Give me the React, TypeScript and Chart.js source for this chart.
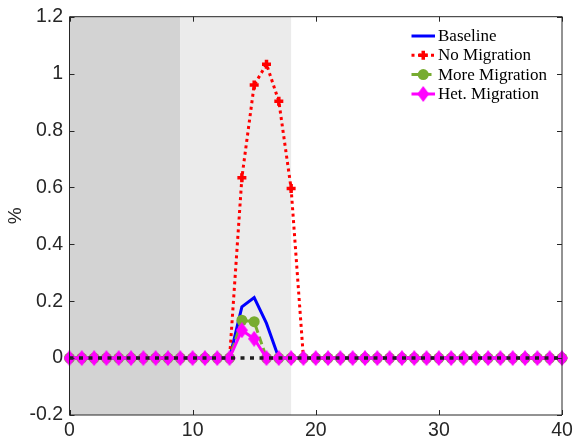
import React, { useEffect, useRef } from "react";
import { Chart, registerables } from "chart.js";

Chart.register(...registerables);

// ---- data ----
const periods = [0,1,2,3,4,5,6,7,8,9,10,11,12,13,14,15,16,17,18,19,20,21,22,23,24,25,26,27,28,29,30,31,32,33,34,35,36,37,38,39,40];
const baseline =     [0,0,0,0,0,0,0,0,0,0,0,0,0,0,0.18,0.213,0.122,0,0,0,0,0,0,0,0,0,0,0,0,0,0,0,0,0,0,0,0,0,0,0,0];
const noMigration =  [0,0,0,0,0,0,0,0,0,0,0,0,0,0,0.634,0.96,1.033,0.903,0.596,0,0,0,0,0,0,0,0,0,0,0,0,0,0,0,0,0,0,0,0,0,0];
const moreMigration = [0,0,0,0,0,0,0,0,0,0,0,0,0,0,0.133,0.128,0,0,0,0,0,0,0,0,0,0,0,0,0,0,0,0,0,0,0,0,0,0,0,0,0];
const hetMigration = [0,0,0,0,0,0,0,0,0,0,0,0,0,0,0.098,0.068,0,0,0,0,0,0,0,0,0,0,0,0,0,0,0,0,0,0,0,0,0,0,0,0,0];
const zeroLineX = [0, 40];
const zeroLineY = [0, 0];
const shadeRanges = [[0, 9], [9, 18]];
const shadeColors = ["#d3d3d3", "#ebebeb"];
const xTicks = [0, 10, 20, 30, 40];
const yTicks = [-0.2, 0, 0.2, 0.4, 0.6, 0.8, 1, 1.2];
const seriesNames = ["Baseline", "No Migration", "More Migration", "Het. Migration"];

const toPts = (ys: number[]) => ys.map((y, i) => ({ x: periods[i], y }));

function makeDiamond(color: string) {
  const c = document.createElement("canvas");
  const w = 12, h = 16;
  c.width = w; c.height = h;
  const g = c.getContext("2d")!;
  g.fillStyle = color;
  g.beginPath();
  g.moveTo(w / 2, 0);
  g.lineTo(w, h / 2);
  g.lineTo(w / 2, h);
  g.lineTo(0, h / 2);
  g.closePath();
  g.fill();
  return c;
}

const AXIS = "#262626";
const TICK_FONT = { family: "'Liberation Sans', Arial", size: 19.5 };

export default function App() {
  const ref = useRef<HTMLCanvasElement>(null);
  useEffect(() => {
    document.body.style.margin = "0";
    const diamond = makeDiamond("#ff00ff");
    const shadePlugin = {
      id: "shade",
      beforeDatasetsDraw(chart: any) {
        const { ctx, chartArea, scales } = chart;
        ctx.save();
        shadeRanges.forEach((r, i) => {
          const x0 = scales.x.getPixelForValue(r[0]);
          const x1 = scales.x.getPixelForValue(r[1]);
          ctx.fillStyle = shadeColors[i];
          ctx.fillRect(x0, chartArea.top, x1 - x0, chartArea.bottom - chartArea.top);
        });
        ctx.restore();
      },
      afterDraw(chart: any) {
        const { ctx, chartArea, scales } = chart;
        const { left, right, top, bottom } = chartArea;
        ctx.save();
        // zero reference line (dotted) on top of the series
        ctx.strokeStyle = "#1e1e1e";
        ctx.lineWidth = 3.5;
        ctx.lineCap = "butt";
        ctx.setLineDash([4, 5.5]);
        ctx.beginPath();
        zeroLineX.forEach((xv, i) => {
          const px = scales.x.getPixelForValue(xv);
          const py = scales.y.getPixelForValue(zeroLineY[i]);
          if (i === 0) ctx.moveTo(px, py); else ctx.lineTo(px, py);
        });
        ctx.stroke();
        ctx.setLineDash([]);

        ctx.strokeStyle = AXIS;
        ctx.lineWidth = 1;
        ctx.beginPath();
        ctx.rect(left, top, right - left, bottom - top);
        ctx.stroke();
        const tl = 5;
        ctx.beginPath();
        xTicks.forEach((v) => {
          const x = Math.round(scales.x.getPixelForValue(v)) + 0.5;
          ctx.moveTo(x, bottom); ctx.lineTo(x, bottom - tl);
          ctx.moveTo(x, top); ctx.lineTo(x, top + tl);
        });
        yTicks.forEach((v) => {
          const y = Math.round(scales.y.getPixelForValue(v)) + 0.5;
          ctx.moveTo(left, y); ctx.lineTo(left + tl, y);
          ctx.moveTo(right, y); ctx.lineTo(right - tl, y);
        });
        ctx.stroke();

        // legend
        const ds = chart.data.datasets;
        const lx0 = 411.5, lx1 = 435, tx = 438;
        const rows = [36, 55.3, 74.6, 94];
        ctx.font = "17px 'Liberation Serif'";
        ctx.textBaseline = "middle";
        ctx.textAlign = "left";
        seriesNames.forEach((name, i) => {
          const d = ds[i];
          const y = rows[i];
          ctx.save();
          ctx.strokeStyle = d.borderColor;
          ctx.lineWidth = d.borderWidth;
          ctx.setLineDash(d.borderDash || []);
          ctx.beginPath();
          ctx.moveTo(lx0, y); ctx.lineTo(lx1, y);
          ctx.stroke();
          ctx.restore();
          const ps = d.pointStyle;
          if (d.pointRadius > 0) {
            const cx = (lx0 + lx1) / 2;
            if (ps instanceof HTMLCanvasElement) {
              ctx.drawImage(ps, cx - ps.width / 2, y - ps.height / 2);
            } else if (ps === "circle") {
              ctx.fillStyle = d.pointBackgroundColor;
              ctx.beginPath();
              ctx.arc(cx, y, d.pointRadius, 0, Math.PI * 2);
              ctx.fill();
            } else if (ps === "cross") {
              ctx.save();
              ctx.strokeStyle = d.pointBorderColor;
              ctx.lineWidth = d.pointBorderWidth;
              ctx.beginPath();
              ctx.moveTo(cx - d.pointRadius, y); ctx.lineTo(cx + d.pointRadius, y);
              ctx.moveTo(cx, y - d.pointRadius); ctx.lineTo(cx, y + d.pointRadius);
              ctx.stroke();
              ctx.restore();
            }
          }
          ctx.fillStyle = "#000";
          ctx.fillText(name, tx, y + 0.5);
        });
        ctx.restore();
      },
    };

    const chart = new Chart(ref.current!, {
      type: "line",
      data: {
        datasets: [
          {
            label: seriesNames[0],
            data: toPts(baseline),
            borderColor: "#0000ff",
            backgroundColor: "#0000ff",
            borderWidth: 3,
            pointRadius: 0,
            order: 4,
          },
          {
            label: seriesNames[1],
            data: toPts(noMigration),
            borderColor: "#ff0000",
            backgroundColor: "#ff0000",
            borderWidth: 3,
            borderDash: [3, 3.5],
            pointStyle: "cross",
            pointRadius: 4.5,
            pointBorderWidth: 3.5,
            pointBorderColor: "#ff0000",
            pointBackgroundColor: "#ff0000",
            order: 3,
          },
          {
            label: seriesNames[2],
            data: toPts(moreMigration),
            borderColor: "#77ac30",
            backgroundColor: "#77ac30",
            borderWidth: 3,
            borderDash: [8, 4],
            pointStyle: "circle",
            pointRadius: 5.5,
            pointBorderWidth: 0,
            pointBorderColor: "#77ac30",
            pointBackgroundColor: "#77ac30",
            order: 2,
          },
          {
            label: seriesNames[3],
            data: toPts(hetMigration),
            borderColor: "#ff00ff",
            backgroundColor: "#ff00ff",
            borderWidth: 3,
            pointStyle: diamond as any,
            pointRadius: 7,
            pointBackgroundColor: "#ff00ff",
            pointBorderColor: "#ff00ff",
            order: 1,
          },
        ],
      },
      options: {
        responsive: false,
        animation: false,
        layout: { padding: { left: 0, right: 12, top: 16.7, bottom: 0 } },
        plugins: { legend: { display: false }, tooltip: { enabled: false } },
        elements: { line: { tension: 0 } },
        datasets: { line: { clip: false as any } },
        scales: {
          x: {
            type: "linear",
            min: 0,
            max: 40,
            grid: { display: false, drawTicks: false },
            border: { display: false },
            afterFit: (s: any) => { s.height = 31; s.paddingLeft = 0; s.paddingRight = 0; },
            afterBuildTicks: (s: any) => { s.ticks = xTicks.map((v) => ({ value: v })); },
            ticks: {
              color: AXIS,
              font: TICK_FONT,
              padding: 4,
              maxRotation: 0,
              autoSkip: false,
              callback: (v: any) => String(v),
            },
          },
          y: {
            type: "linear",
            min: -0.2,
            max: 1.2,
            grid: { display: false, drawTicks: false },
            border: { display: false },
            afterFit: (s: any) => { s.width = 69.5; s.paddingTop = 0; s.paddingBottom = 0; },
            afterBuildTicks: (s: any) => { s.ticks = yTicks.map((v) => ({ value: v })); },
            title: {
              display: true,
              text: "%",
              color: AXIS,
              font: { family: "'Liberation Sans', Arial", size: 19 },
              padding: { top: 4, bottom: 0 },
            },
            ticks: {
              color: AXIS,
              font: TICK_FONT,
              padding: 6.5,
              autoSkip: false,
              callback: (v: any) => String(Number(Number(v).toFixed(1))),
            },
          },
        },
      },
      plugins: [shadePlugin],
    });
    return () => chart.destroy();
  }, []);
  return (
    <div style={{ position: "absolute", left: 0, top: 0, width: 574, height: 446 }}>
      <canvas ref={ref} width={574} height={446} />
    </div>
  );
}
